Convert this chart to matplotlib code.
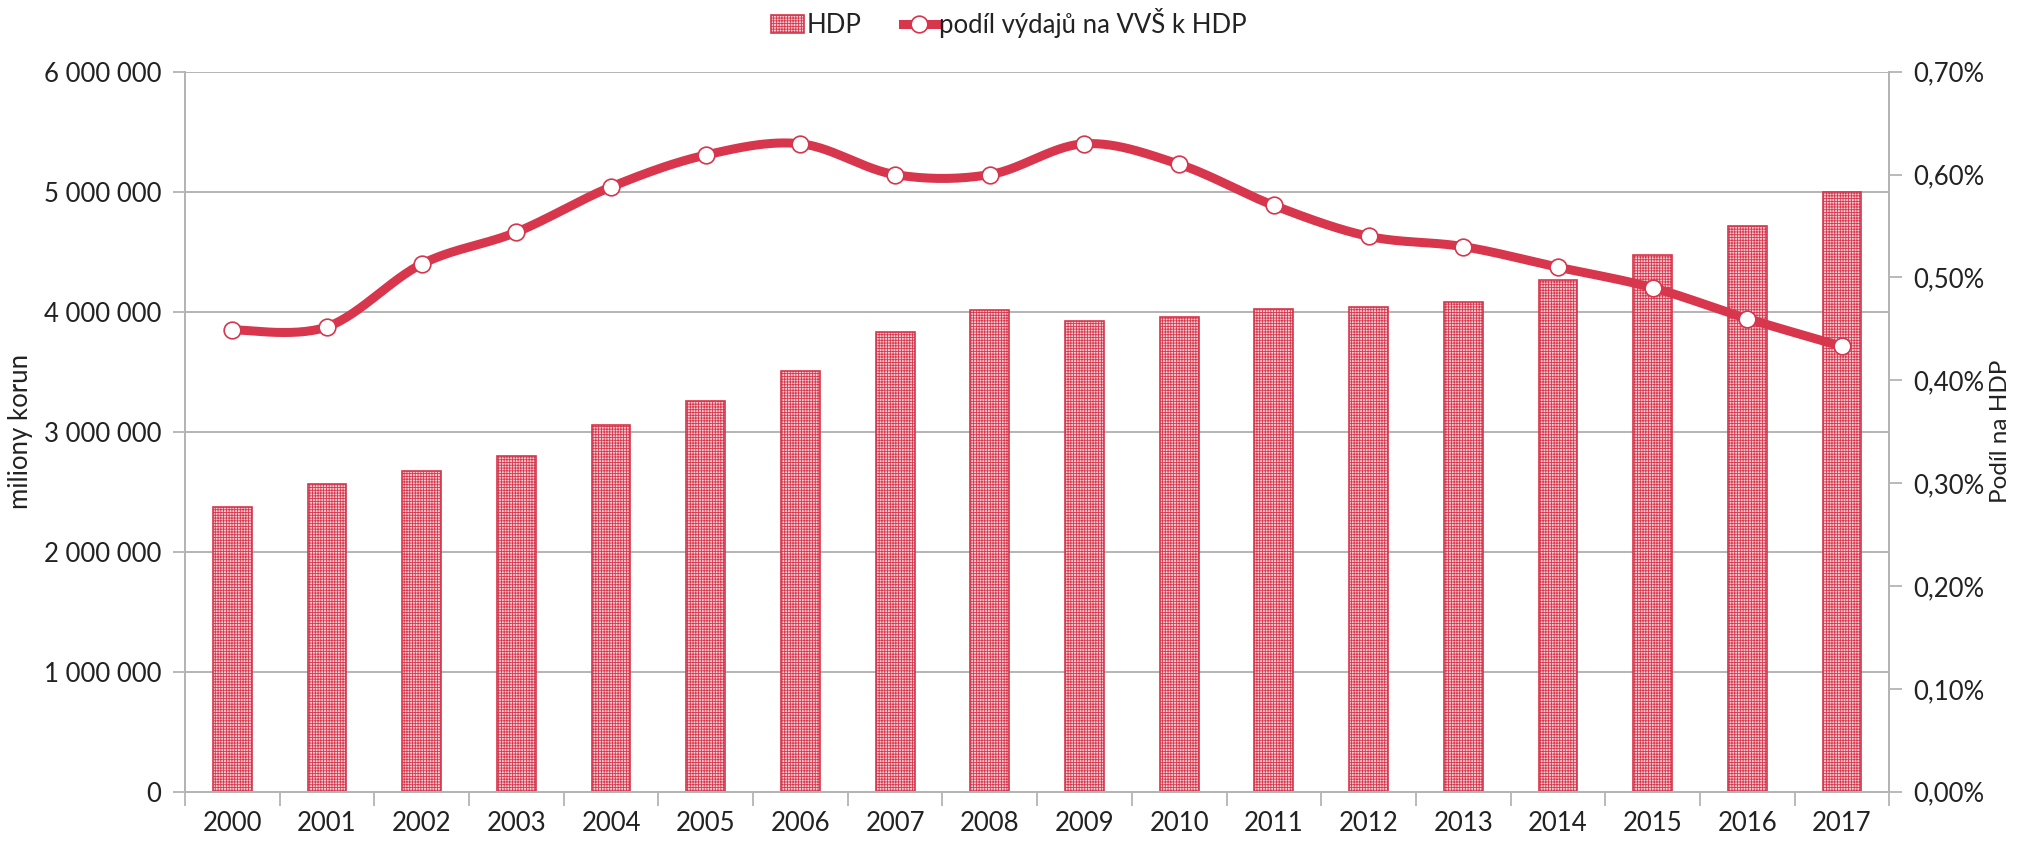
import numpy as np
import matplotlib.pyplot as plt
from matplotlib.ticker import FuncFormatter, FixedLocator

plt.rcParams['font.family'] = ['Lato', 'DejaVu Sans']
plt.rcParams['hatch.linewidth'] = 0.6

# data
years = ['2000', '2001', '2002', '2003', '2004', '2005', '2006', '2007', '2008',
         '2009', '2010', '2011', '2012', '2013', '2014', '2015', '2016', '2017']
hdp = [2372630, 2562679, 2674634, 2801163, 3057660, 3257972, 3507131, 3831819, 4015346,
       3921827, 3953651, 4022511, 4041569, 4077054, 4260886, 4472391, 4715061, 4995000]
podil = [0.449, 0.452, 0.513, 0.544, 0.588, 0.619, 0.630, 0.600, 0.600,
         0.630, 0.610, 0.570, 0.540, 0.530, 0.510, 0.490, 0.460, 0.433]

RED = '#d7364c'
GRID = '#b4b4b4'
TXT = '#222222'
FS = 18.5

fig = plt.figure(figsize=(20.17, 8.41), dpi=100)
ax = fig.add_axes([0.0917, 0.0586, 0.845, 0.8561])
ax2 = ax.twinx()

x = np.arange(len(years))
bars = ax.bar(x, hdp, width=0.41, facecolor='#f6ccd2', edgecolor=RED,
              linewidth=1.2, hatch='++++++', label='HDP', zorder=2)

# smoothed line (Excel-like bezier through points)
def smooth(xs, ys, n=30):
    px, py = [], []
    N = len(xs)
    for i in range(N - 1):
        x0, y0 = xs[max(i - 1, 0)], ys[max(i - 1, 0)]
        x1, y1 = xs[i], ys[i]
        x2, y2 = xs[i + 1], ys[i + 1]
        x3, y3 = xs[min(i + 2, N - 1)], ys[min(i + 2, N - 1)]
        c1x, c1y = x1 + (x2 - x0) / 6, y1 + (y2 - y0) / 6
        c2x, c2y = x2 - (x3 - x1) / 6, y2 - (y3 - y1) / 6
        t = np.linspace(0, 1, n)
        bx = (1-t)**3*x1 + 3*(1-t)**2*t*c1x + 3*(1-t)*t**2*c2x + t**3*x2
        by = (1-t)**3*y1 + 3*(1-t)**2*t*c1y + 3*(1-t)*t**2*c2y + t**3*y2
        px.extend(bx)
        py.extend(by)
    return np.array(px), np.array(py)

sx, sy = smooth(x.astype(float), np.array(podil))
ax2.plot(sx, sy, color=RED, lw=6.5, solid_capstyle='round', zorder=3)
ax2.plot(x, podil, linestyle='none', marker='o', markersize=12,
         markerfacecolor='white', markeredgecolor=RED, markeredgewidth=1.2, zorder=4)

# left axis
ax.set_xlim(-0.5, len(years) - 0.5)
ax.set_ylim(0, 6000000)
ax.set_yticks(np.arange(0, 6000001, 1000000))
ax.yaxis.set_major_formatter(FuncFormatter(lambda v, p: f'{int(v):,}'.replace(',', ' ')))
ax.set_xticks(x)
ax.set_xticklabels(years)
ax.xaxis.set_minor_locator(FixedLocator(np.arange(-0.5, len(years), 1)))
ax.tick_params(axis='x', which='major', length=0, pad=14, labelsize=FS, colors=TXT)
ax.tick_params(axis='x', which='minor', length=10, width=1.3, color=GRID)
ax.tick_params(axis='y', length=9, width=1.3, color=GRID, labelsize=FS, labelcolor=TXT, pad=8)
ax.grid(axis='y', color=GRID, lw=1.4, zorder=0)
ax.set_axisbelow(True)
ax.set_ylabel('miliony korun', fontsize=FS, color=TXT, labelpad=8)

# right axis
ax2.set_ylim(0, 0.7)
ax2.set_yticks(np.arange(0, 0.701, 0.1))
ax2.yaxis.set_major_formatter(FuncFormatter(lambda v, p: f'{v:.2f}%'.replace('.', ',')))
ax2.tick_params(axis='y', length=9, width=1.3, color=GRID, labelsize=FS, labelcolor=TXT, pad=8)
ax2.set_ylabel('Podíl na HDP', fontsize=17.5, color=TXT, labelpad=4)

for a in (ax, ax2):
    a.spines['top'].set_visible(False)
    for s in ('left', 'right', 'bottom'):
        a.spines[s].set_color(GRID)
        a.spines[s].set_linewidth(1.4)

# legend
line_handle = plt.Line2D([], [], color=RED, lw=6.5, marker='o', markersize=12,
                         markerfacecolor='white', markeredgecolor=RED, markeredgewidth=1.2)
fig.legend([bars, line_handle], ['HDP', 'podíl výdajů na VVŠ k HDP'],
           loc='center', bbox_to_anchor=(0.5, 0.973), ncol=2, frameon=False,
           fontsize=FS, handlelength=1.3, handletextpad=0.1, columnspacing=1.6,
           labelcolor=TXT)

fig.savefig('out.png', dpi=100)
